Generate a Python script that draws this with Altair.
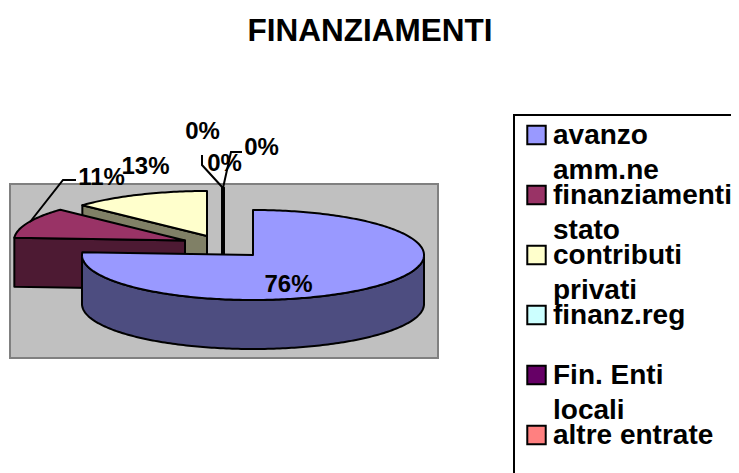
import math
import altair as alt
import pandas as pd

# ---- data
categories = ["avanzo amm.ne", "finanziamenti stato", "contributi privati", "finanz.reg", "Fin. Enti locali", "altre entrate"]
shares = [76, 11, 13, 0, 0, 0]
share_labels = ["76%", "11%", "13%", "0%", "0%", "0%"]
legend_line1 = ["avanzo", "finanziamenti", "contributi", "finanz.reg", "Fin. Enti", "altre entrate"]
legend_line2 = ["amm.ne", "stato", "privati", "", "locali", ""]
top_colors = ["#9999FF", "#993366", "#FFFFCC", "#CCFFFF", "#660066", "#FF8080"]
side_colors = ["#4D4D80", "#4D1A33", "#808066", "#668080", "#330033", "#804040"]
title_text = "FINANZIAMENTI"

# ---- layout (pixels in the picture); the page caps the drawing at x = 731
W, H = 731, 473
A, B, DEPTH = 171, 45, 49
apex = [(253, 255), (185, 240.5), (207, 236), (222, 233), (223, 233), (224, 233)]
label_pos = [(288.5, 292), (101.5, 185), (145.5, 174), (202.5, 139), (224.5, 171), (261.5, 155)]
FONT = "Liberation Sans"

xs = alt.Scale(domain=[8, W], range=[0, W - 8], nice=False, zero=False)
ys = alt.Scale(domain=[8, H], range=[0, H - 8], nice=False, zero=False)
X = lambda f="x": alt.X(f"{f}:Q", scale=xs, axis=None)
Y = lambda f="y": alt.Y(f"{f}:Q", scale=ys, axis=None)


def rim(cx, cy, t0, t1, dz=0):
    n = max(2, int(abs(t1 - t0)) + 1)
    pts = []
    for k in range(n):
        t = math.radians(t0 + (t1 - t0) * k / (n - 1))
        pts.append((cx + A * math.sin(t), cy - B * math.cos(t) + dz))
    return pts


def poly(points, fill, width=2):
    df = pd.DataFrame(
        [{"i": k, "x": p[0], "y": p[1]} for k, p in enumerate(points + points[:2])]
    )
    return (
        alt.Chart(df)
        .mark_line(fill=fill, stroke="black", strokeWidth=width, strokeJoin="round", clip=False)
        .encode(x=X(), y=Y(), order="i:Q")
    )


def path(points, width=2):
    df = pd.DataFrame([{"i": k, "x": p[0], "y": p[1]} for k, p in enumerate(points)])
    return alt.Chart(df).mark_line(stroke="black", strokeWidth=width).encode(x=X(), y=Y(), order="i:Q")


# slice angles from the shares, clockwise from twelve o'clock
edges = [0]
for s in shares:
    edges.append(edges[-1] + 3.6 * s)

layers = []

# plot background
bg = pd.DataFrame([{"x": 10, "x2": 438, "y": 184, "y2": 358}])
layers.append(
    alt.Chart(bg)
    .mark_rect(fill="#C0C0C0", stroke="#808080", strokeWidth=2)
    .encode(x=X(), x2="x2:Q", y=Y(), y2="y2:Q")
)


def slice_layers(i):
    cx, cy = apex[i]
    t0, t1 = edges[i], edges[i + 1]
    top = [(cx, cy)] + rim(cx, cy, t0, t1)
    out = []
    if i > 0:
        e = rim(cx, cy, t0, t0)[0]
        face = [(cx, cy), e, (e[0], e[1] + DEPTH), (cx, cy + DEPTH)]
        out.append(poly(face, side_colors[i]))
    lo, hi = max(t0, 90), min(t1, 270)
    if hi > lo:
        wall = rim(cx, cy, lo, hi) + rim(cx, cy, hi, lo, DEPTH)
        out.append(poly(wall, side_colors[i]))
    out.append(poly(top, top_colors[i]))
    return out


for i in (2, 3, 4, 5, 1, 0):
    layers += slice_layers(i)

# leader lines
layers.append(path([(30, 222), (63, 180), (76, 180)]))
layers.append(path([(223, 188), (202, 165), (202, 155)]))
layers.append(path([(223, 188), (231, 152), (242, 152)]))

# data labels
lab = pd.DataFrame({"t": share_labels, "x": [p[0] for p in label_pos], "y": [p[1] for p in label_pos]})
layers.append(
    alt.Chart(lab)
    .mark_text(font=FONT, fontSize=24, fontWeight="bold", align="center", baseline="alphabetic", color="black")
    .encode(x=X(), y=Y(), text="t:N")
)

# title
tdf = pd.DataFrame({"t": [title_text], "x": [370], "y": [41]})
layers.append(
    alt.Chart(tdf)
    .mark_text(font=FONT, fontSize=31.5, fontWeight="bold", align="center", baseline="alphabetic", color="black")
    .encode(x=X(), y=Y(), text="t:N")
)

# legend frame, open at the picture's edges
layers.append(path([(514, H), (514, 115), (W, 115)], 2))

# legend entries
rows = [135 + 60 * k for k in range(len(categories))]
sw = pd.DataFrame({"cat": categories, "x": [536.5] * 6, "y": rows})
layers.append(
    alt.Chart(sw)
    .mark_square(size=340, stroke="black", strokeWidth=2, opacity=1)
    .encode(
        x=X(), y=Y(),
        color=alt.Color("cat:N", scale=alt.Scale(domain=categories, range=top_colors), legend=None),
    )
)
lines = []
for k in range(len(categories)):
    lines.append({"t": legend_line1[k], "x": 553, "y": rows[k] + 9})
    if legend_line2[k]:
        lines.append({"t": legend_line2[k], "x": 553, "y": rows[k] + 44})
layers.append(
    alt.Chart(pd.DataFrame(lines))
    .mark_text(font=FONT, fontSize=28, fontWeight="bold", align="left", baseline="alphabetic", color="black")
    .encode(x=X(), y=Y(), text="t:N")
)

chart = (
    alt.layer(*layers)
    .properties(width=W - 8, height=H - 8, padding=0, autosize="none", background="white")
    .configure_view(stroke=None)
)
chart.save("out.html", embed_options={"renderer": "svg", "actions": False})
